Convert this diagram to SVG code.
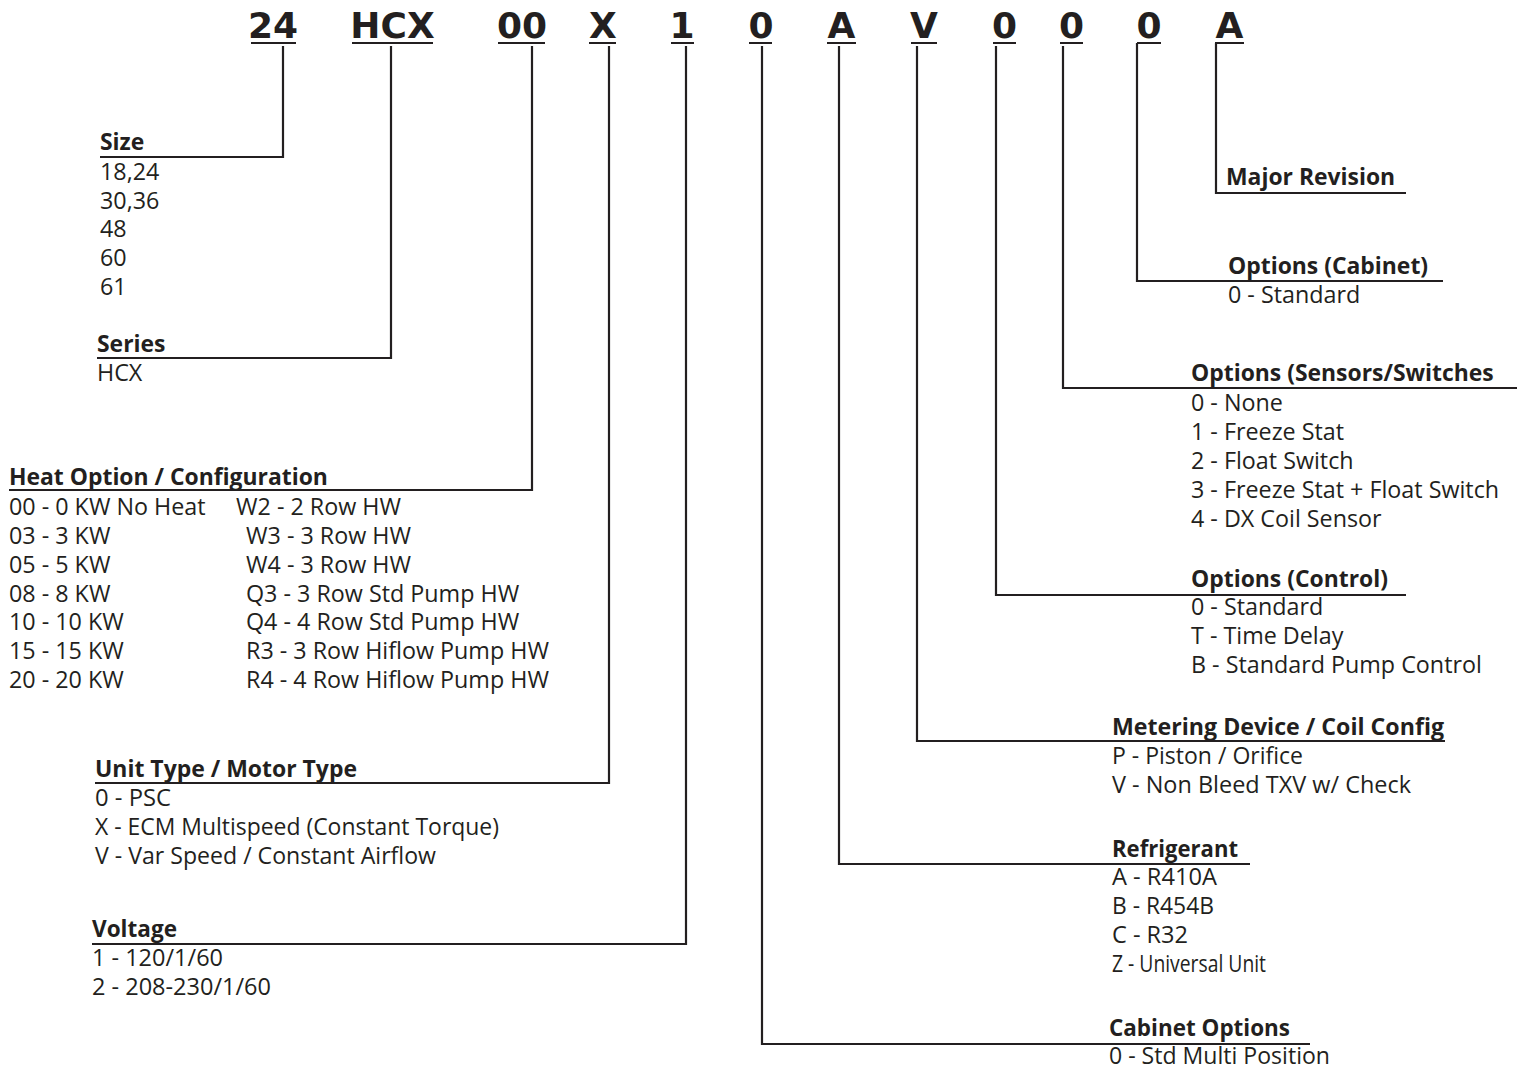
<svg xmlns="http://www.w3.org/2000/svg" width="1528" height="1068" viewBox="0 0 1528 1068">
<style>
.code{font-family:"DejaVu Sans",Verdana,sans-serif;font-weight:bold;font-size:36px;fill:#231f20;text-anchor:middle}
.h{font-family:"Open Sans","Noto Sans",sans-serif;font-weight:bold;font-size:22.9px;fill:#231f20}
.t{font-family:"Open Sans","Noto Sans",sans-serif;font-size:23.3px;fill:#231f20}
.ul{stroke:#231f20;stroke-width:2.2;fill:none}
.c{stroke:#231f20;stroke-width:2.2;fill:none}
</style>
<rect width="1528" height="1068" fill="#ffffff"/>
<g id="code">
<text class="code" x="273" y="38">24</text>
<text class="code" x="392.5" y="38">HCX</text>
<text class="code" x="522" y="38">00</text>
<text class="code" x="603" y="38">X</text>
<text class="code" x="682" y="38">1</text>
<text class="code" x="761" y="38">0</text>
<text class="code" x="841.5" y="38">A</text>
<text class="code" x="924" y="38">V</text>
<text class="code" x="1004.5" y="38">0</text>
<text class="code" x="1071.5" y="38">0</text>
<text class="code" x="1149" y="38">0</text>
<text class="code" x="1229.5" y="38">A</text>
<path class="ul" d="M251,43H296M352,43H433M498,43H545M589,43H616M671,43H694M749,43H772M827,43H856M911,43H937M993,43H1016M1060,43H1083M1137,43H1161M1215,43H1244"/>
</g>
<g id="connectors">
<path class="c" d="M283,46V157H100"/>
<path class="c" d="M391,46V358H97"/>
<path class="c" d="M532,46V490H9"/>
<path class="c" d="M609,46V783H95"/>
<path class="c" d="M686,46V944H92"/>
<path class="c" d="M762,46V1044H1310"/>
<path class="c" d="M839,46V864H1250"/>
<path class="c" d="M917,46V741H1445"/>
<path class="c" d="M996,46V595H1406"/>
<path class="c" d="M1063,46V388H1517"/>
<path class="c" d="M1137,43V281H1443"/>
<path class="c" d="M1216,43V193H1406"/>
</g>
<g id="size">
<text class="h" x="100" y="150">Size</text>
<text class="t" x="100" y="180">18,24</text>
<text class="t" x="100" y="209">30,36</text>
<text class="t" x="100" y="237">48</text>
<text class="t" x="100" y="266">60</text>
<text class="t" x="100" y="295">61</text>
</g>
<g id="series">
<text class="h" x="97" y="352">Series</text>
<text class="t" x="97" y="381">HCX</text>
</g>
<g id="heat">
<text class="h" x="9" y="485">Heat Option / Configuration</text>
<text class="t" x="9" y="515">00 - 0 KW No Heat</text>
<text class="t" x="9" y="544">03 - 3 KW</text>
<text class="t" x="9" y="573">05 - 5 KW</text>
<text class="t" x="9" y="602">08 - 8 KW</text>
<text class="t" x="9" y="630">10 - 10 KW</text>
<text class="t" x="9" y="659">15 - 15 KW</text>
<text class="t" x="9" y="688">20 - 20 KW</text>
<text class="t" x="236" y="515">W2 - 2 Row HW</text>
<text class="t" x="246" y="544">W3 - 3 Row HW</text>
<text class="t" x="246" y="573">W4 - 3 Row HW</text>
<text class="t" x="246" y="602">Q3 - 3 Row Std Pump HW</text>
<text class="t" x="246" y="630">Q4 - 4 Row Std Pump HW</text>
<text class="t" x="246" y="659">R3 - 3 Row Hiflow Pump HW</text>
<text class="t" x="246" y="688">R4 - 4 Row Hiflow Pump HW</text>
</g>
<g id="unit-type">
<text class="h" x="95" y="777" textLength="262" lengthAdjust="spacingAndGlyphs">Unit Type / Motor Type</text>
<text class="t" x="95" y="806" textLength="76" lengthAdjust="spacingAndGlyphs">0 - PSC</text>
<text class="t" x="95" y="835" textLength="404" lengthAdjust="spacingAndGlyphs">X - ECM Multispeed (Constant Torque)</text>
<text class="t" x="95" y="864" textLength="341" lengthAdjust="spacingAndGlyphs">V - Var Speed / Constant Airflow</text>
</g>
<g id="voltage">
<text class="h" x="92" y="937" textLength="85" lengthAdjust="spacingAndGlyphs">Voltage</text>
<text class="t" x="92" y="966" textLength="131" lengthAdjust="spacingAndGlyphs">1 - 120/1/60</text>
<text class="t" x="92" y="995" textLength="179" lengthAdjust="spacingAndGlyphs">2 - 208-230/1/60</text>
</g>
<g id="major-revision">
<text class="h" x="1226" y="185">Major Revision</text>
</g>
<g id="options-cabinet">
<text class="h" x="1228" y="274">Options (Cabinet)</text>
<text class="t" x="1228" y="303">0 - Standard</text>
</g>
<g id="options-sensors">
<text class="h" x="1191" y="381">Options (Sensors/Switches</text>
<text class="t" x="1191" y="411">0 - None</text>
<text class="t" x="1191" y="440">1 - Freeze Stat</text>
<text class="t" x="1191" y="469">2 - Float Switch</text>
<text class="t" x="1191" y="498">3 - Freeze Stat + Float Switch</text>
<text class="t" x="1191" y="527">4 - DX Coil Sensor</text>
</g>
<g id="options-control">
<text class="h" x="1191" y="587">Options (Control)</text>
<text class="t" x="1191" y="615">0 - Standard</text>
<text class="t" x="1191" y="644">T - Time Delay</text>
<text class="t" x="1191" y="673">B - Standard Pump Control</text>
</g>
<g id="metering">
<text class="h" x="1112" y="735" textLength="332" lengthAdjust="spacingAndGlyphs">Metering Device / Coil Config</text>
<text class="t" x="1112" y="764" textLength="191" lengthAdjust="spacingAndGlyphs">P - Piston / Orifice</text>
<text class="t" x="1112" y="793" textLength="299" lengthAdjust="spacingAndGlyphs">V - Non Bleed TXV w/ Check</text>
</g>
<g id="refrigerant">
<text class="h" x="1112" y="857" textLength="126" lengthAdjust="spacingAndGlyphs">Refrigerant</text>
<text class="t" x="1112" y="885" textLength="105" lengthAdjust="spacingAndGlyphs">A - R410A</text>
<text class="t" x="1112" y="914" textLength="102" lengthAdjust="spacingAndGlyphs">B - R454B</text>
<text class="t" x="1112" y="943" textLength="76" lengthAdjust="spacingAndGlyphs">C - R32</text>
<text class="t" x="1112" y="972" textLength="154" lengthAdjust="spacingAndGlyphs">Z - Universal Unit</text>
</g>
<g id="cabinet-options">
<text class="h" x="1109" y="1036" textLength="181" lengthAdjust="spacingAndGlyphs">Cabinet Options</text>
<text class="t" x="1109" y="1064" textLength="221" lengthAdjust="spacingAndGlyphs">0 - Std Multi Position</text>
</g>
</svg>
